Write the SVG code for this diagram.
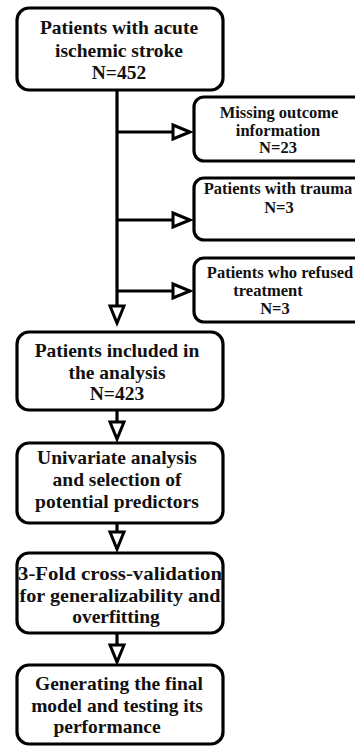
<svg xmlns="http://www.w3.org/2000/svg" width="355" height="746" viewBox="0 0 355 746">
<style>
.box{fill:#fff;stroke:#000;stroke-width:3.2}
.t{font-family:"Liberation Serif","Times New Roman",serif;font-weight:bold;fill:#111;text-anchor:middle}
.m{font-size:19.5px}
.s{font-size:16.5px}
.c{stroke:#000;stroke-width:3.2;fill:none}
</style>
<defs>
<marker id="ah" markerUnits="userSpaceOnUse" markerWidth="26" markerHeight="22" refX="20" refY="11" orient="auto" overflow="visible">
<path d="M3,4 L20,11 L3,18 Z" fill="#fff" stroke="#000" stroke-width="3" stroke-linejoin="miter"/>
</marker>
</defs>
<g id="connectors">
<line class="c" x1="117" y1="90" x2="117" y2="323" marker-end="url(#ah)"/>
<line class="c" x1="117" y1="132" x2="190" y2="132" marker-end="url(#ah)"/>
<line class="c" x1="117" y1="220" x2="190" y2="220" marker-end="url(#ah)"/>
<line class="c" x1="117" y1="291" x2="190" y2="291" marker-end="url(#ah)"/>
<line class="c" x1="117" y1="410" x2="117" y2="439" marker-end="url(#ah)"/>
<line class="c" x1="117" y1="523" x2="117" y2="549" marker-end="url(#ah)"/>
<line class="c" x1="117" y1="633" x2="117" y2="662" marker-end="url(#ah)"/>
</g>
<g id="n1">
<rect class="box" x="17" y="8" width="206" height="82" rx="12"/>
<text class="t m" x="119" y="34">Patients with acute</text>
<text class="t m" x="119" y="57">ischemic stroke</text>
<text class="t m" x="119" y="79">N=452</text>
</g>
<g id="n2">
<rect class="box" x="194" y="97" width="200" height="64" rx="10"/>
<text class="t s" x="279" y="118">Missing outcome</text>
<text class="t s" x="278" y="135.5">information</text>
<text class="t s" x="278" y="153">N=23</text>
</g>
<g id="n3">
<rect class="box" x="194" y="178" width="200" height="62" rx="10"/>
<text class="t s" x="278" y="194">Patients with trauma</text>
<text class="t s" x="279" y="213">N=3</text>
</g>
<g id="n4">
<rect class="box" x="194" y="258" width="200" height="64" rx="10"/>
<text class="t s" x="280" y="278">Patients who refused</text>
<text class="t s" x="268" y="296">treatment</text>
<text class="t s" x="275" y="314">N=3</text>
</g>
<g id="n5">
<rect class="box" x="17" y="332" width="206" height="78" rx="12"/>
<text class="t m" x="117" y="357">Patients included in</text>
<text class="t m" x="117" y="379">the analysis</text>
<text class="t m" x="117" y="400">N=423</text>
</g>
<g id="n6">
<rect class="box" x="17" y="443" width="206" height="80" rx="12"/>
<text class="t m" x="117" y="464">Univariate analysis</text>
<text class="t m" x="117" y="486">and selection of</text>
<text class="t m" x="117" y="508">potential predictors</text>
</g>
<g id="n7">
<rect class="box" x="17" y="553" width="206" height="80" rx="12"/>
<text class="t m" x="120" y="580" textLength="204" lengthAdjust="spacingAndGlyphs">3-Fold cross-validation</text>
<text class="t m" x="120" y="602" textLength="201" lengthAdjust="spacingAndGlyphs">for generalizability and</text>
<text class="t m" x="116" y="623">overfitting</text>
</g>
<g id="n8">
<rect class="box" x="17" y="665" width="206" height="79" rx="12"/>
<text class="t m" x="119" y="690">Generating the final</text>
<text class="t m" x="117" y="712">model and testing its</text>
<text class="t m" x="107" y="733">performance</text>
</g>
</svg>
